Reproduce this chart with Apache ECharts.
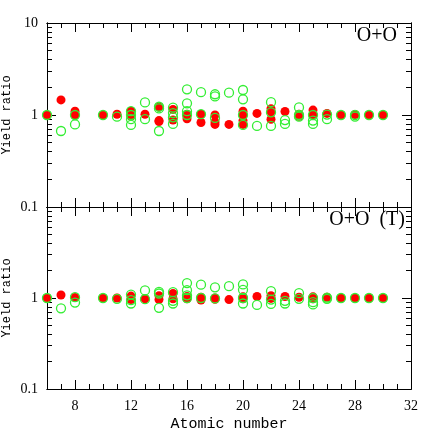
<!DOCTYPE html>
<html>
<head>
<meta charset="utf-8">
<script src="https://cdn.jsdelivr.net/npm/echarts@6/dist/echarts.min.js"></script>
<style>
  html, body { margin: 0; padding: 0; background: #fff; }
  #chart-container { width: 436px; height: 436px; }
</style>
</head>
<body>
<div id="chart-container"></div>
<script>
// [atomic number, yield ratio]
var ooRed = [
  [6, 1.0], [7, 1.46], [8, 1.10], [8, 1.0], [10, 1.0], [11, 1.02], [12, 1.10], [12, 0.97],
  [13, 1.02], [14, 1.22], [14, 0.87], [14, 0.85], [15, 1.15], [15, 0.88], [16, 1.02], [16, 0.91],
  [17, 1.02], [17, 0.83], [18, 1.0], [18, 0.84], [18, 0.79], [19, 0.79],
  [20, 1.10], [20, 1.0], [20, 0.87], [20, 0.79], [21, 1.04], [22, 1.17], [22, 1.08], [22, 0.90],
  [23, 1.09], [24, 1.02], [24, 0.97], [25, 1.13], [25, 1.01], [26, 1.04],
  [27, 1.0], [28, 1.01], [29, 1.0], [30, 1.0]
];
var ooGreen = [
  [6, 1.0], [7, 0.67], [8, 1.0], [8, 0.79], [10, 1.0], [11, 0.96],
  [12, 1.10], [12, 1.0], [12, 0.90], [12, 0.78], [13, 1.37], [13, 0.90],
  [14, 1.23], [14, 1.18], [14, 0.67], [15, 1.20], [15, 1.05], [15, 0.94], [15, 0.80],
  [16, 1.90], [16, 1.34], [16, 1.10], [16, 1.0], [17, 1.77], [17, 1.02],
  [18, 1.68], [18, 1.59], [18, 0.93], [19, 1.75], [20, 1.87], [20, 1.48], [20, 1.0], [20, 0.78],
  [21, 0.76], [22, 1.38], [22, 1.07], [22, 0.76], [23, 0.88], [23, 0.80],
  [24, 1.21], [24, 1.0], [24, 0.96], [25, 1.0], [25, 0.87], [25, 0.80], [26, 1.01], [26, 0.90],
  [27, 1.0], [28, 1.0], [28, 0.96], [29, 1.0], [30, 1.0]
];
var ootRed = [
  [6, 1.0], [7, 1.08], [8, 1.01], [10, 1.0], [11, 1.0], [12, 1.05], [12, 0.96], [13, 0.98],
  [14, 1.06], [14, 0.96], [15, 1.12], [15, 0.98], [16, 1.04], [16, 0.98], [17, 1.02], [17, 0.95],
  [18, 1.0], [18, 0.97], [19, 0.96], [20, 1.03], [20, 0.98], [21, 1.04], [22, 1.06], [22, 0.99],
  [23, 1.04], [24, 1.02], [25, 1.03], [25, 0.98], [26, 1.02], [27, 1.0], [28, 1.0], [29, 1.0], [30, 1.0]
];
var ootGreen = [
  [6, 1.0], [7, 0.77], [8, 1.02], [8, 0.89], [10, 1.0], [11, 0.98],
  [12, 1.09], [12, 0.95], [12, 0.87], [13, 1.21], [13, 0.97], [14, 1.17], [14, 1.12], [14, 0.78],
  [15, 1.16], [15, 0.93], [15, 0.87], [16, 1.46], [16, 1.22], [16, 1.07], [16, 1.0],
  [17, 1.40], [17, 1.0], [18, 1.31], [18, 0.99], [19, 1.35], [20, 1.41], [20, 1.23], [20, 1.0], [20, 0.87],
  [21, 0.84], [22, 1.19], [22, 0.96], [22, 0.86], [23, 0.93], [23, 0.87], [24, 1.13], [24, 0.98],
  [25, 1.0], [25, 0.90], [25, 0.85], [26, 1.01], [26, 0.98], [27, 1.0], [28, 1.0], [29, 1.0], [30, 1.0]
];
var xMajorTicks = [8, 12, 16, 20, 24, 28, 32];
var yMinorTicks = [0.2, 0.3, 0.4, 0.5, 0.6, 0.7, 0.8, 0.9, 2, 3, 4, 5, 6, 7, 8, 9];
var panelLabels = ['O+O', 'O+O  (T)'];

var dom = document.getElementById('chart-container');
var myChart = echarts.init(dom, null, { renderer: 'canvas' });

var RED = '#ff0000';
var GREEN = '#33ee33';
var tickFont = 'Liberation Serif';
var nameFont = 'Liberation Mono';

function xAxes(grid, pos, major, showLabels) {
  var ax = {
    type: 'value', gridIndex: grid, position: pos, min: 6, max: 32,
    axisLine: { show: true, onZero: false, lineStyle: { color: '#000', width: 1 } },
    axisTick: { show: true, inside: true, length: major ? 9 : 5, lineStyle: { color: '#000' } },
    axisLabel: { show: false },
    splitLine: { show: false }
  };
  if (major) {
    ax.axisTick.customValues = xMajorTicks;
    ax.axisLabel = {
      show: showLabels, customValues: xMajorTicks, margin: 10,
      color: '#000', fontFamily: tickFont, fontSize: 14
    };
    if (showLabels) {
      ax.name = 'Atomic number';
      ax.nameLocation = 'middle';
      ax.nameGap = 28;
      ax.nameMoveOverlap = false;
      ax.nameTextStyle = { color: '#000', fontFamily: nameFont, fontSize: 15 };
    }
  } else {
    ax.interval = 1;
  }
  return ax;
}

function yAxes(grid, pos, major, labels) {
  var ax = {
    type: 'log', logBase: 10, gridIndex: grid, position: pos, min: 0.1, max: 10,
    axisLine: { show: true, onZero: false, lineStyle: { color: '#000', width: 1 } },
    axisTick: { show: true, inside: true, length: major ? 9 : 5, lineStyle: { color: '#000' } },
    axisLabel: { show: false },
    splitLine: { show: false },
    minorTick: { show: false }
  };
  if (major) {
    ax.axisTick.customValues = [0.1, 1, 10];
    if (labels) {
      ax.axisLabel = {
        show: true, customValues: labels, margin: 9,
        color: '#000', fontFamily: tickFont, fontSize: 14,
        formatter: function (v) { return String(+v.toPrecision(3)); }
      };
      ax.name = 'Yield ratio';
      ax.nameLocation = 'middle';
      ax.nameGap = 34;
      ax.nameMoveOverlap = false;
      ax.nameTextStyle = { color: '#000', fontFamily: nameFont, fontSize: 12 };
    }
  } else {
    ax.axisTick.customValues = yMinorTicks;
  }
  return ax;
}

var xAxisList = [];
var yAxisList = [];
[0, 1].forEach(function (g) {
  xAxisList.push(xAxes(g, 'bottom', true, g === 1));
  xAxisList.push(xAxes(g, 'bottom', false));
  xAxisList.push(xAxes(g, 'top', true, false));
  xAxisList.push(xAxes(g, 'top', false));
  yAxisList.push(yAxes(g, 'left', true, g === 0 ? [0.1, 1, 10] : [0.1, 1]));
  yAxisList.push(yAxes(g, 'left', false));
  yAxisList.push(yAxes(g, 'right', true, null));
  yAxisList.push(yAxes(g, 'right', false));
});

function redSeries(data, g) {
  return {
    type: 'scatter', xAxisIndex: g * 4, yAxisIndex: g * 4, data: data,
    symbol: 'circle', symbolSize: 9, silent: true,
    itemStyle: { color: RED, opacity: 1 }
  };
}
function greenSeries(data, g) {
  return {
    type: 'scatter', xAxisIndex: g * 4, yAxisIndex: g * 4, data: data,
    symbol: 'circle', symbolSize: 9, silent: true,
    itemStyle: { color: 'rgba(0,0,0,0)', borderColor: GREEN, borderWidth: 1.3, opacity: 1 }
  };
}

var option = {
  animation: false,
  backgroundColor: '#fff',
  grid: [
    { left: 47, top: 23, width: 364, height: 184, outerBoundsMode: 'none' },
    { left: 47, top: 207, width: 364, height: 182, outerBoundsMode: 'none' }
  ],
  xAxis: xAxisList,
  yAxis: yAxisList,
  graphic: [
    { type: 'text', style: { text: panelLabels[0], x: 397, y: 36, align: 'right', verticalAlign: 'middle',
      font: '20px "Liberation Serif"', fill: '#000' } },
    { type: 'text', style: { text: panelLabels[1], x: 405, y: 220, align: 'right', verticalAlign: 'middle',
      font: '20px "Liberation Serif"', fill: '#000' } }
  ],
  series: [
    redSeries(ooRed, 0), greenSeries(ooGreen, 0),
    redSeries(ootRed, 1), greenSeries(ootGreen, 1)
  ]
};

myChart.setOption(option);
window.addEventListener('resize', myChart.resize);
</script>
</body>
</html>
